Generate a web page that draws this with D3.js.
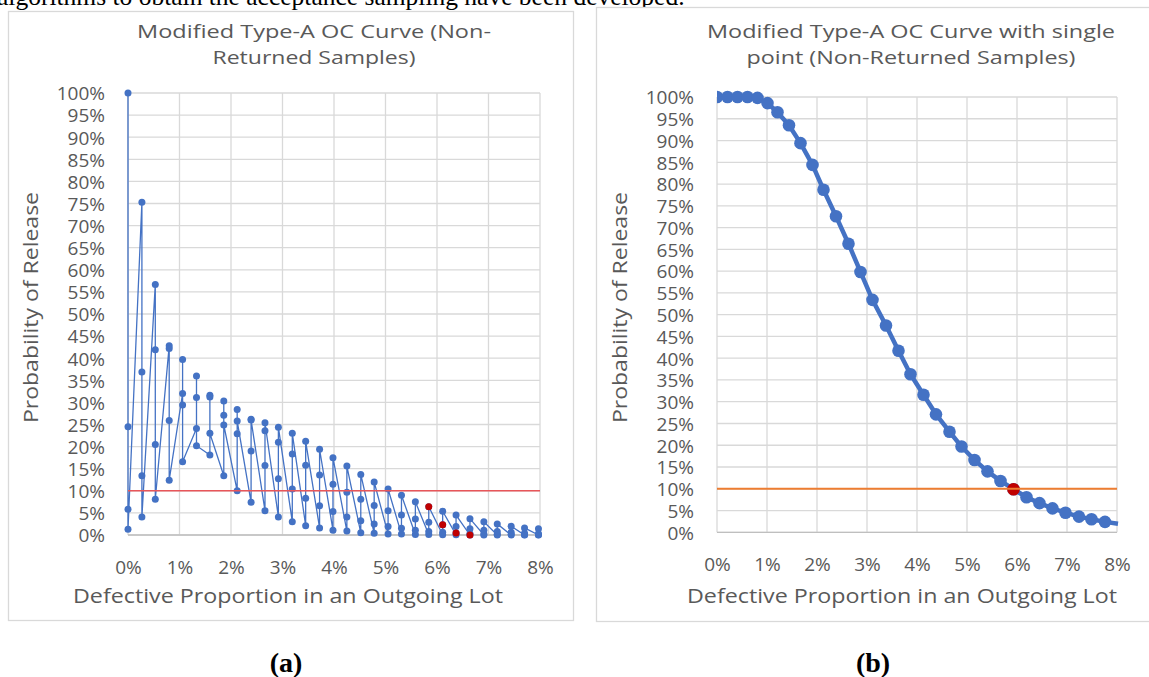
<!DOCTYPE html>
<html><head><meta charset="utf-8">
<script src="https://cdn.jsdelivr.net/npm/d3@7/dist/d3.min.js"></script>
<style>
body{margin:0;background:#fff;}
svg{display:block;}
</style></head><body>
<svg id="c" width="1149" height="677"></svg>
<script>
// ---------- DATA ----------
const xTickValues = [0,1,2,3,4,5,6,7,8];            // percent
const yTickValues = [0,5,10,15,20,25,30,35,40,45,50,55,60,65,70,75,80,85,90,95,100];
const threshold = 10;

// Chart (a): defective proportion (%) of each lot column
const xA = [0,0.27,0.53,0.80,1.06,1.33,1.59,1.86,2.12,2.39,2.66,2.92,3.19,3.45,3.72,3.98,
            4.25,4.52,4.78,5.05,5.31,5.58,5.84,6.11,6.37,6.64,6.91,7.17,7.44,7.70,7.97];
// four release-probability values (%) per column, in plotting order
const pA1 = [100,75.3,56.7,42.8,32.0,24.1,18.1,13.4,10.0,7.4,5.5,4.1,3.0,2.1,1.6,1.1,
             0.9,0.5,0.4,0.2,0.2,0.1,0.1,0.05,0.03,0.0,0.0,0.0,0.0,0.0,0.0];
const pA2 = [24.5,36.9,41.9,42.2,39.7,36.0,31.6,27.1,22.9,19.0,15.7,12.7,10.4,8.3,6.6,5.3,
             4.1,3.2,2.5,1.9,1.5,1.1,0.8,0.6,0.45,0.3,0.2,0.15,0.1,0.05,0.03];
const pA3 = [5.8,13.4,20.5,25.9,29.4,31.1,31.2,30.3,28.4,26.2,23.6,21.0,18.3,15.8,13.6,11.5,
             9.7,8.1,6.7,5.5,4.5,3.6,2.9,2.3,1.9,1.4,1.1,0.8,0.6,0.4,0.3];
const pA4 = [1.3,4.1,8.1,12.4,16.6,20.2,23.0,24.9,25.8,26.0,25.4,24.4,23.0,21.2,19.4,17.5,
             15.6,13.7,12.0,10.4,9.0,7.5,6.4,5.4,4.5,3.7,3.0,2.5,2.0,1.6,1.4];
const redXA = [5.84,6.11,6.37,6.64];
const redYA = [6.4,2.3,0.45,0.0];

// Chart (b)
const xB = [0,0.21,0.41,0.61,0.81,1.01,1.21,1.44,1.67,1.91,2.13,2.38,2.63,2.87,3.11,3.38,
            3.63,3.87,4.13,4.38,4.65,4.89,5.15,5.41,5.67,5.93,6.19,6.45,6.71,6.97,7.24,7.49,7.76,8.02];
const yB = [100,100,100,100,99.8,98.6,96.5,93.5,89.4,84.4,78.7,72.6,66.3,59.8,53.4,47.5,
            41.7,36.3,31.6,27.1,23.1,19.7,16.6,14.0,11.8,9.9,8.05,6.7,5.5,4.5,3.6,3.0,2.4,1.95];
const redXB = [5.93];
const redYB = [9.9];

const titleA = ["Modified Type-A OC Curve (Non-","Returned Samples)"];
const titleB = ["Modified Type-A OC Curve with single","point (Non-Returned Samples)"];
const xTitle = "Defective Proportion in an Outgoing Lot";
const yTitle = "Probability of Release";

// ---------- DRAW ----------
const svg = d3.select("#c");
const BLUE = "#4472C4", GRID = "#D9D9D9", TXT = "#595959";
const FONT = "'Open Sans', Lato, sans-serif";

svg.append("text").attr("x", -3).attr("y", 5)
  .attr("font-family","'Liberation Serif','Times New Roman',serif").attr("font-size",25.5)
  .attr("fill","#000").text("algorithms to obtain the acceptance sampling have been developed.");

function chart(cfg){
  const g = svg.append("g");
  g.append("rect").attr("x",cfg.frame[0]+0.5).attr("y",cfg.frame[1]+0.5)
    .attr("width",cfg.frame[2]).attr("height",cfg.frame[3])
    .attr("fill","#fff").attr("stroke",GRID).attr("stroke-width",1.3);
  const x = d3.scaleLinear().domain([0,8]).range([cfg.px0,cfg.px1]);
  const y = d3.scaleLinear().domain([0,100]).range([cfg.py0,cfg.py1]);
  // grid
  g.append("g").selectAll("line").data(yTickValues).join("line")
    .attr("x1",cfg.px0).attr("x2",cfg.px1).attr("y1",d=>y(d)).attr("y2",d=>y(d))
    .attr("stroke",GRID).attr("stroke-width",1.3);
  g.append("g").selectAll("line").data(xTickValues).join("line")
    .attr("x1",d=>x(d)).attr("x2",d=>x(d)).attr("y1",cfg.py1).attr("y2",cfg.py0)
    .attr("stroke",GRID).attr("stroke-width",1.3);
  g.append("line").attr("x1",cfg.px0).attr("x2",cfg.px1).attr("y1",cfg.py0).attr("y2",cfg.py0)
    .attr("stroke","#BFBFBF").attr("stroke-width",1.3);
  // axes labels via d3 axes
  const ya = d3.axisLeft(y).tickValues(yTickValues).tickFormat(d=>d+"%").tickSize(0).tickPadding(23);
  const yg = g.append("g").attr("transform",`translate(${cfg.px0},0)`).call(ya);
  yg.select(".domain").remove();
  yg.selectAll("text").attr("font-family",FONT).attr("font-size",19).attr("fill",TXT).attr("dy","0.36em");
  const xa = d3.axisBottom(x).tickValues(xTickValues).tickFormat(d=>d+"%").tickSize(0).tickPadding(0);
  const xg = g.append("g").attr("transform",`translate(0,${cfg.py0})`).call(xa);
  xg.select(".domain").remove();
  xg.selectAll("text").attr("font-family",FONT).attr("font-size",19).attr("fill",TXT).attr("dy",null).attr("y",38.5);
  // titles
  cfg.title.forEach((t,i)=>{
    g.append("text").attr("x",cfg.titleX).attr("y",37.5+i*26.5).attr("text-anchor","middle")
      .attr("font-family",FONT).attr("font-size",17.8).attr("fill",TXT)
      .attr("textLength",cfg.titleW[i]).attr("lengthAdjust","spacingAndGlyphs").text(t);
  });
  g.append("text").attr("x",cfg.xTitleX).attr("y",602.5).attr("text-anchor","middle")
    .attr("font-family",FONT).attr("font-size",20).attr("fill",TXT)
    .attr("textLength",430).attr("lengthAdjust","spacingAndGlyphs").text(xTitle);
  g.append("text").attr("transform",`translate(${cfg.yTitleX},${cfg.yTitleY}) rotate(-90)`)
    .attr("text-anchor","middle").attr("font-family",FONT).attr("font-size",19.5).attr("fill",TXT)
    .attr("textLength",231).attr("lengthAdjust","spacingAndGlyphs").text(yTitle);
  return {g,x,y};
}

// ----- chart (a)
const A = chart({frame:[8,11,565,609], px0:128, px1:540, py0:535, py1:93,
  title:titleA, titleW:[354,203], titleX:314, xTitleX:288, yTitleX:38, yTitleY:307.5});
const ptsA = [];
xA.forEach((xv,i)=>{ [pA1,pA2,pA3,pA4].forEach(s=>ptsA.push([xv,s[i]])); });
const lineA = d3.line().x(d=>A.x(d[0])).y(d=>A.y(d[1]));
A.g.append("path").datum(ptsA).attr("d",lineA).attr("fill","none")
  .attr("stroke",BLUE).attr("stroke-width",1.3);
A.g.append("g").selectAll("circle").data(ptsA).join("circle")
  .attr("cx",d=>A.x(d[0])).attr("cy",d=>A.y(d[1])).attr("r",3.5).attr("fill",BLUE);
A.g.append("line").attr("x1",A.x(0)).attr("x2",A.x(8)).attr("y1",A.y(threshold)).attr("y2",A.y(threshold))
  .attr("stroke","#E8565A").attr("stroke-width",1.6);
A.g.append("g").selectAll("circle").data(redXA.map((v,i)=>[v,redYA[i]])).join("circle")
  .attr("cx",d=>A.x(d[0])).attr("cy",d=>A.y(d[1])).attr("r",3.5).attr("fill","#C00000");

// ----- chart (b)
const B = chart({frame:[596,7,620,614], px0:717, px1:1117, py0:532.3, py1:97,
  title:titleB, titleW:[408,329], titleX:911, xTitleX:902, yTitleX:627, yTitleY:307.5});
svg.append("defs").append("clipPath").attr("id","clipB").append("rect")
  .attr("x",717).attr("y",80).attr("width",402).attr("height",470);
const ptsB = xB.map((v,i)=>[v,yB[i]]);
const lineB = d3.line().x(d=>B.x(d[0])).y(d=>B.y(d[1]));
const gb = B.g.append("g").attr("clip-path","url(#clipB)");
gb.append("path").datum(ptsB).attr("d",lineB).attr("fill","none")
  .attr("stroke",BLUE).attr("stroke-width",4.5).attr("stroke-linejoin","round");
gb.append("g").selectAll("circle").data(ptsB.filter(d=>d[0]<=8)).join("circle")
  .attr("cx",d=>B.x(d[0])).attr("cy",d=>B.y(d[1])).attr("r",6.3).attr("fill",BLUE);
gb.append("g").selectAll("circle").data(redXB.map((v,i)=>[v,redYB[i]])).join("circle")
  .attr("cx",d=>B.x(d[0])).attr("cy",d=>B.y(d[1])).attr("r",6.3).attr("fill","#C00000");
B.g.append("line").attr("x1",B.x(0)).attr("x2",B.x(8)).attr("y1",B.y(threshold)).attr("y2",B.y(threshold))
  .attr("stroke","#ED7D31").attr("stroke-width",2);

// ----- panel labels
[["(a)",286],["(b)",873]].forEach(([t,xx])=>{
  svg.append("text").attr("x",xx).attr("y",672).attr("text-anchor","middle")
    .attr("font-family","'Liberation Serif','Times New Roman',serif").attr("font-weight","bold")
    .attr("font-size",28).attr("fill","#000").text(t);
});
</script>
</body></html>
